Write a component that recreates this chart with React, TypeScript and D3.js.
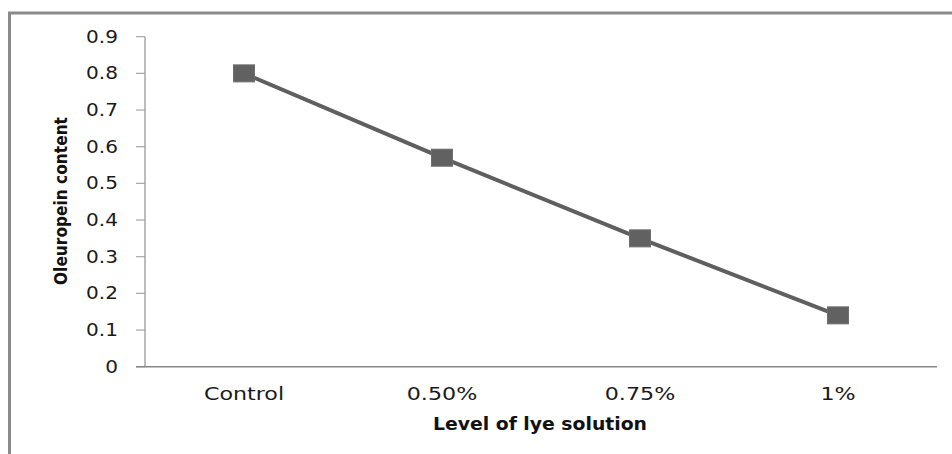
import React from "react";
import * as d3 from "d3";

const categories = ["Control", "0.50%", "0.75%", "1%"];
const values = [0.8, 0.57, 0.35, 0.14];
const yTicks = [0, 0.1, 0.2, 0.3, 0.4, 0.5, 0.6, 0.7, 0.8, 0.9];

const W = 952;
const H = 454;
const left = 145;
const right = 937;
const top = 36.7;
const bottom = 366.7;

export default function App() {
  const x = d3.scalePoint<string>().domain(categories).range([left, right]).padding(0.5);
  const y = d3.scaleLinear().domain([0, 0.9]).range([bottom, top]);
  const line = d3
    .line<number>()
    .x((_, i) => x(categories[i]) as number)
    .y((d) => y(d));
  const font = "'DejaVu Sans', Verdana, sans-serif";
  const mw = 21;
  const mh = 17;
  return (
    <svg
      width={W}
      height={H}
      style={{ position: "absolute", left: 0, top: 0, background: "#fff" }}
    >
      <rect x={9.5} y={13} width={W} height={H} fill="#fff" stroke="#8a8a8a" strokeWidth={3} />
      {/* y axis */}
      <line x1={left} x2={left} y1={top} y2={bottom} stroke="#a6a6a6" strokeWidth={1.5} />
      {yTicks.map((t) => (
        <g key={t}>
          <line x1={136} x2={left} y1={y(t)} y2={y(t)} stroke="#a6a6a6" strokeWidth={1.2} />
          <text
            transform={`translate(118,${y(t)}) scale(1.18,1)`}
            textAnchor="end"
            dy="0.36em"
            fontFamily={font}
            fontSize={17}
            fill="#1a1a1a"
          >
            {t === 0 ? "0" : d3.format(".1f")(t)}
          </text>
        </g>
      ))}
      {/* x axis */}
      <line x1={136} x2={right} y1={bottom} y2={bottom} stroke="#868686" strokeWidth={1.5} />
      {categories.map((c) => (
        <text
          key={c}
          transform={`translate(${x(c)},400) scale(1.2,1)`}
          textAnchor="middle"
          fontFamily={font}
          fontSize={18.5}
          fill="#1a1a1a"
        >
          {c}
        </text>
      ))}
      <text
        x={540}
        y={430}
        textAnchor="middle"
        fontFamily={font}
        fontWeight="bold"
        fontSize={17}
        textLength={214}
        lengthAdjust="spacingAndGlyphs"
        fill="#111"
      >
        Level of lye solution
      </text>
      <text
        transform={`translate(67,201) rotate(-90)`}
        textAnchor="middle"
        fontFamily={font}
        fontWeight="bold"
        fontSize={18}
        textLength={168}
        lengthAdjust="spacingAndGlyphs"
        fill="#111"
      >
        Oleuropein content
      </text>
      <path d={line(values) || ""} fill="none" stroke="#5f5f5f" strokeWidth={4} />
      {values.map((v, i) => (
        <rect
          key={i}
          x={(x(categories[i]) as number) - mw / 2}
          y={y(v) - mh / 2}
          width={mw}
          height={mh}
          fill="#616161"
          stroke="#6e6e6e"
          strokeWidth={1}
        />
      ))}
    </svg>
  );
}
